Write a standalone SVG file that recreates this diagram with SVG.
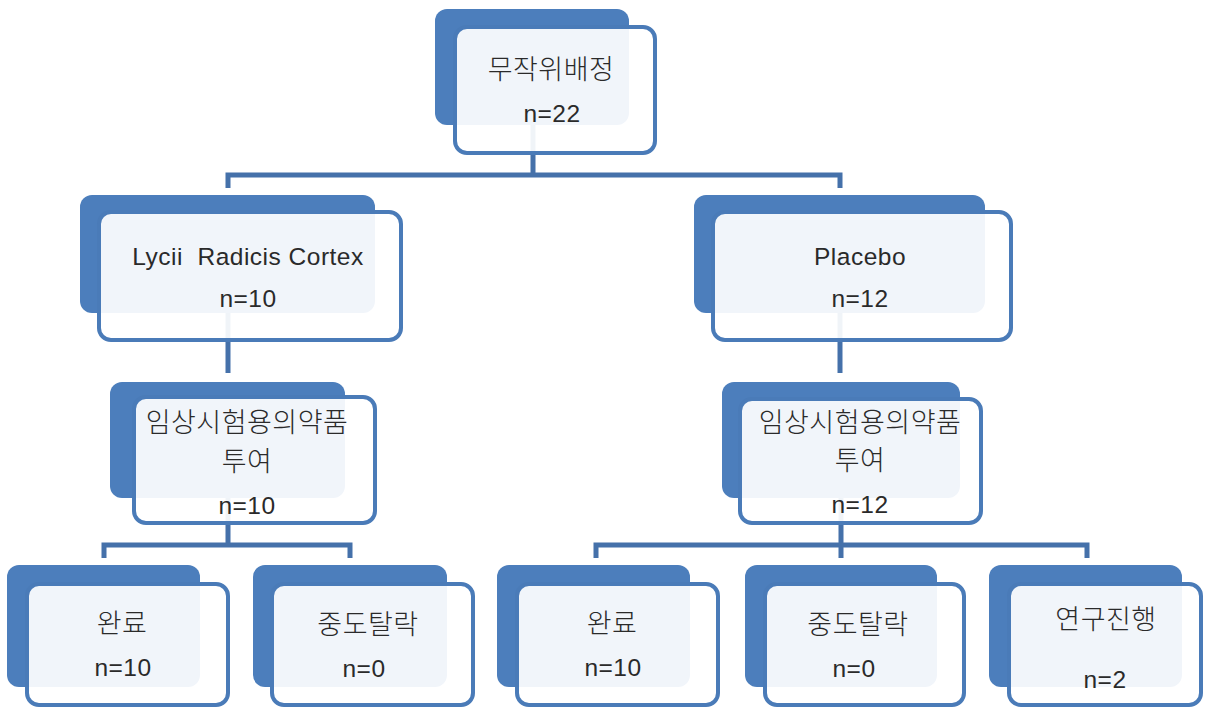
<svg xmlns="http://www.w3.org/2000/svg" width="1205" height="711" viewBox="0 0 1205 711">
  <style>
    .back { fill: #4C7EBC; }
    .front { fill: #FFFFFF; fill-opacity: 0.92; stroke: #4A7BB8; stroke-width: 4; }
    .link { fill: none; stroke: #4571AA; stroke-width: 5; stroke-linejoin: miter; }
    text { font-family: "Liberation Sans", "Noto Sans CJK KR", sans-serif; font-size: 24.5px; fill: #2a2a2a; text-anchor: middle; white-space: pre; letter-spacing: 0.5px; }
    text.ko { font-family: "Noto Sans CJK KR", sans-serif; font-size: 27px; font-weight: 300; letter-spacing: 0.5px; }
  </style>
  <rect width="1205" height="711" fill="#FFFFFF"/>

  <!-- connectors sit underneath the boxes -->
  <g id="connectors">
    <path class="link" d="M533,100 V175 M228,188 V175 H840 V188"/>
    <path class="link" d="M228,300 V373"/>
    <path class="link" d="M840,300 V373"/>
    <path class="link" d="M228,480 V545 M104,558 V545 H350 V558"/>
    <path class="link" d="M841,480 V545 M596,558 V545 H1087 V558 M841,545 V558"/>
  </g>

  <g id="randomization">
    <rect class="back" x="435" y="9" width="194" height="116" rx="12"/>
    <rect class="front" x="455" y="27" width="200" height="126" rx="12"/>
    <text class="ko" x="551" y="79">무작위배정</text>
    <text x="552" y="122">n=22</text>
  </g>

  <g id="lycii">
    <rect class="back" x="80" y="195" width="295" height="118" rx="12"/>
    <rect class="front" x="99" y="212" width="302" height="128" rx="12"/>
    <text x="248" y="265">Lycii  Radicis Cortex</text>
    <text x="248" y="307">n=10</text>
  </g>

  <g id="placebo">
    <rect class="back" x="694" y="195" width="291" height="118" rx="12"/>
    <rect class="front" x="713" y="212" width="298" height="128" rx="12"/>
    <text x="860" y="265">Placebo</text>
    <text x="860" y="307">n=12</text>
  </g>

  <g id="dosing-lycii">
    <rect class="back" x="110" y="382" width="235" height="116" rx="12"/>
    <rect class="front" x="134" y="397" width="241" height="126" rx="12"/>
    <text class="ko" x="247" y="432">임상시험용의약품</text>
    <text class="ko" x="247" y="471">투여</text>
    <text x="247" y="514">n=10</text>
  </g>

  <g id="dosing-placebo">
    <rect class="back" x="722" y="382" width="238" height="116" rx="12"/>
    <rect class="front" x="740" y="399" width="241" height="124" rx="12"/>
    <text class="ko" x="860" y="432">임상시험용의약품</text>
    <text class="ko" x="860" y="470">투여</text>
    <text x="860" y="513">n=12</text>
  </g>

  <g id="complete-lycii">
    <rect class="back" x="7" y="565" width="193" height="122" rx="12"/>
    <rect class="front" x="27" y="584" width="201" height="121" rx="12"/>
    <text class="ko" x="122" y="633">완료</text>
    <text x="123" y="676">n=10</text>
  </g>

  <g id="dropout-lycii">
    <rect class="back" x="253" y="565" width="194" height="122" rx="12"/>
    <rect class="front" x="272" y="584" width="201" height="121" rx="12"/>
    <text class="ko" x="368" y="634">중도탈락</text>
    <text x="364" y="677">n=0</text>
  </g>

  <g id="complete-placebo">
    <rect class="back" x="497" y="565" width="193" height="122" rx="12"/>
    <rect class="front" x="517" y="584" width="201" height="121" rx="12"/>
    <text class="ko" x="612" y="633">완료</text>
    <text x="613" y="676">n=10</text>
  </g>

  <g id="dropout-placebo">
    <rect class="back" x="745" y="565" width="192" height="122" rx="12"/>
    <rect class="front" x="765" y="584" width="199" height="121" rx="12"/>
    <text class="ko" x="858" y="634">중도탈락</text>
    <text x="854" y="677">n=0</text>
  </g>

  <g id="ongoing-placebo">
    <rect class="back" x="989" y="565" width="193" height="122" rx="12"/>
    <rect class="front" x="1009" y="584" width="192" height="121" rx="12"/>
    <text class="ko" x="1106" y="629">연구진행</text>
    <text x="1105" y="688">n=2</text>
  </g>
</svg>
